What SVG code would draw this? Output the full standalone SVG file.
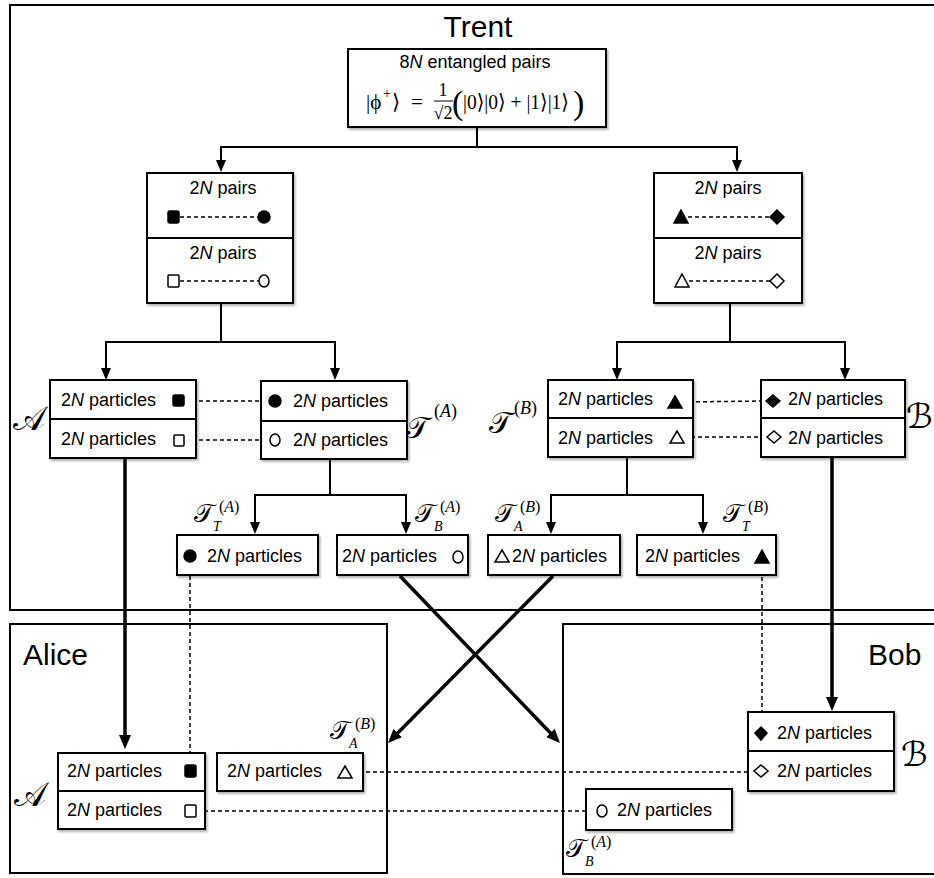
<svg xmlns="http://www.w3.org/2000/svg" width="934" height="878" viewBox="0 0 934 878">
<style>
.frame{fill:none;stroke:#000;stroke-width:2}
.box{fill:#fff;stroke:#000;stroke-width:2;filter:url(#sh)}
.div{stroke:#000;stroke-width:2}
.ln{fill:none;stroke:#000;stroke-width:2}
.thick{fill:none;stroke:#000;stroke-width:3.5}
.dash{fill:none;stroke:#000;stroke-width:1.5;stroke-dasharray:4 3}
.t{font-family:"Liberation Sans",Arial,sans-serif;font-size:18px;fill:#000}
.title{font-family:"Liberation Sans",Arial,sans-serif;font-size:30px;fill:#000}
.m{font-family:"Liberation Serif","DejaVu Serif",serif;font-size:21px;fill:#000}
.msup{font-family:"Liberation Serif","DejaVu Serif",serif;font-size:14px;fill:#000}
.big{font-family:"Liberation Serif","DejaVu Serif",serif;font-size:34px;fill:#000}
.frac{font-family:"Liberation Serif","DejaVu Serif",serif;font-size:18px;fill:#000}
.cal{font-family:"DejaVu Serif","DejaVu Sans","Liberation Serif",serif;font-size:34px;fill:#000}
.calt{font-family:"DejaVu Serif","DejaVu Sans","Liberation Serif",serif;font-size:30px;fill:#000}
.cals{font-family:"DejaVu Serif","DejaVu Sans","Liberation Serif",serif;font-size:26px;fill:#000}
.supb{font-family:"Liberation Serif","DejaVu Serif",serif;font-size:18px;fill:#000}
.sup{font-family:"Liberation Serif","DejaVu Serif",serif;font-size:16px;fill:#000}
.sub{font-family:"Liberation Serif","DejaVu Serif",serif;font-size:14px;font-style:italic;fill:#000}
.fk{fill:#000;stroke:#000;stroke-width:1.5}
.op{fill:#fff;stroke:#000;stroke-width:1.5}
</style>
<defs>
<filter id="sh" x="-10%" y="-10%" width="130%" height="150%">
<feDropShadow dx="1.5" dy="2" stdDeviation="1.2" flood-color="#000" flood-opacity="0.3"/>
</filter>
<marker id="ah" viewBox="0 0 12 12" refX="4" refY="6" markerWidth="12" markerHeight="12" markerUnits="userSpaceOnUse" orient="auto-start-reverse">
<path d="M0,1 L12,6 L0,11 z" fill="#000"/>
</marker>
<marker id="ahb" viewBox="0 0 14 12" refX="5" refY="6" markerWidth="14" markerHeight="12" markerUnits="userSpaceOnUse" orient="auto">
<path d="M0,0 L14,6 L0,12 z" fill="#000"/>
</marker>
</defs>
<rect width="934" height="878" fill="#fff"/>

<g id="trent-frame">
<rect class="frame" x="10" y="5" width="940" height="605"/>
<text class="title" x="478" y="37" text-anchor="middle">Trent</text>
</g>
<g id="alice-frame">
<rect class="frame" x="10" y="624" width="377" height="249"/>
<text class="title" x="23" y="665">Alice</text>
</g>
<g id="bob-frame">
<rect class="frame" x="563" y="624" width="400" height="250"/>
<text class="title" x="868" y="665">Bob</text>
</g>

<g id="connectors">
<polyline class="ln" points="477,127 477,147"/>
<polyline class="ln" points="221,164 221,147 737,147 737,164" marker-start="url(#ah)" marker-end="url(#ah)"/>
<polyline class="ln" points="221,303 221,342"/>
<polyline class="ln" points="106,372 106,342 335,342 335,372" marker-start="url(#ah)" marker-end="url(#ah)"/>
<polyline class="ln" points="730,303 730,342"/>
<polyline class="ln" points="617,372 617,342 845,342 845,372" marker-start="url(#ah)" marker-end="url(#ah)"/>
<polyline class="ln" points="330,459 330,495"/>
<polyline class="ln" points="255,526 255,495 406,495 406,526" marker-start="url(#ah)" marker-end="url(#ah)"/>
<polyline class="ln" points="627,457 627,495"/>
<polyline class="ln" points="551,526 551,495 703,495 703,526" marker-start="url(#ah)" marker-end="url(#ah)"/>
<line class="thick" x1="125" y1="458" x2="125" y2="740" marker-end="url(#ahb)"/>
<line class="thick" x1="832" y1="457" x2="832" y2="702" marker-end="url(#ahb)"/>
<line class="thick" x1="400" y1="576" x2="553.8" y2="736.5" marker-end="url(#ahb)"/>
<line class="thick" x1="553" y1="576" x2="394.3" y2="736.6" marker-end="url(#ahb)"/>
<line class="dash" x1="185" y1="401" x2="269" y2="401"/>
<line class="dash" x1="185" y1="440" x2="270" y2="440"/>
<line class="dash" x1="682" y1="402" x2="765" y2="401"/>
<line class="dash" x1="684" y1="437" x2="767" y2="437"/>
<line class="dash" x1="190" y1="562" x2="190" y2="765"/>
<line class="dash" x1="762" y1="563" x2="762" y2="727"/>
<line class="dash" x1="352" y1="772" x2="755" y2="772"/>
<line class="dash" x1="197" y1="811" x2="597" y2="811"/>
</g>

<g id="source">
<rect class="box" x="348" y="49" width="258" height="78"/>
<text class="t" x="475" y="68" text-anchor="middle">8<tspan font-style="italic">N</tspan> entangled pairs</text>
<text class="m" x="366" y="109">|ϕ</text>
<text class="msup" x="383" y="98">+</text>
<text class="m" x="392" y="109">⟩</text>
<text class="m" x="417" y="109" text-anchor="middle">=</text>
<text class="frac" x="443" y="96" text-anchor="middle">1</text>
<line x1="434" y1="101" x2="453" y2="101" stroke="#000" stroke-width="1"/>
<text class="frac" x="443" y="119" text-anchor="middle">√2</text>
<text class="big" x="452" y="114">(</text>
<text class="m" x="463" y="109" textLength="106" lengthAdjust="spacingAndGlyphs">|0⟩|0⟩ + |1⟩|1⟩</text>
<text class="big" x="573" y="114">)</text>
</g>

<g id="pairs-left">
<rect class="box" x="147" y="173" width="146" height="130"/>
<line class="div" x1="147" y1="238" x2="293" y2="238"/>
<text class="t" x="223" y="194" text-anchor="middle">2<tspan font-style="italic">N</tspan> pairs</text>
<text class="t" x="223" y="259" text-anchor="middle">2<tspan font-style="italic">N</tspan> pairs</text>
<line class="dash" x1="180" y1="217" x2="258" y2="217"/>
<line class="dash" x1="180" y1="281" x2="259" y2="281"/>
<rect class="fk" x="168" y="211" width="11" height="12" rx="2"/>
<circle class="fk" cx="264" cy="217" r="6"/>
<rect class="op" x="168" y="275" width="11" height="12" rx="1"/>
<ellipse class="op" cx="264" cy="281" rx="5" ry="6"/>
</g>

<g id="pairs-right">
<rect class="box" x="654" y="173" width="148" height="130"/>
<line class="div" x1="654" y1="238" x2="802" y2="238"/>
<text class="t" x="728" y="194" text-anchor="middle">2<tspan font-style="italic">N</tspan> pairs</text>
<text class="t" x="728" y="259" text-anchor="middle">2<tspan font-style="italic">N</tspan> pairs</text>
<line class="dash" x1="688" y1="217" x2="770" y2="217"/>
<line class="dash" x1="689" y1="281" x2="770" y2="281"/>
<polygon class="fk" points="681,210 688,223 674,223"/>
<polygon class="fk" points="777,210 784,217 777,224 770,217"/>
<polygon class="op" points="682,274 689,287 675,287"/>
<polygon class="op" points="777,274 784,281 777,288 770,281"/>
</g>

<g id="A-trent">
<rect class="box" x="50" y="380" width="146" height="78"/>
<line class="div" x1="50" y1="419" x2="196" y2="419"/>
<text class="t" x="61" y="406">2<tspan font-style="italic">N</tspan> particles</text>
<text class="t" x="61" y="445">2<tspan font-style="italic">N</tspan> particles</text>
<rect class="fk" x="173" y="395" width="11" height="11" rx="2"/>
<rect class="op" x="174" y="435" width="10" height="11" rx="1"/>
<text class="cal" x="13" y="430">𝒜</text>
</g>

<g id="TA">
<rect class="box" x="261" y="381" width="146" height="78"/>
<line class="div" x1="261" y1="421" x2="407" y2="421"/>
<text class="t" x="293" y="407">2<tspan font-style="italic">N</tspan> particles</text>
<text class="t" x="293" y="446">2<tspan font-style="italic">N</tspan> particles</text>
<circle class="fk" cx="275" cy="401" r="6"/>
<ellipse class="op" cx="275" cy="440" rx="5" ry="6"/>
<text class="calt" x="406" y="438">𝒯</text>
<text class="supb" x="434" y="417">(<tspan font-style="italic">A</tspan>)</text>
</g>

<g id="TB">
<rect class="box" x="548" y="380" width="145" height="77"/>
<line class="div" x1="548" y1="418" x2="693" y2="418"/>
<text class="t" x="558" y="405">2<tspan font-style="italic">N</tspan> particles</text>
<text class="t" x="558" y="444">2<tspan font-style="italic">N</tspan> particles</text>
<polygon class="fk" points="675,396 682,408 668,408"/>
<polygon class="op" points="677,431 684,443 670,443"/>
<text class="calt" x="489" y="433">𝒯</text>
<text class="supb" x="514" y="414">(<tspan font-style="italic">B</tspan>)</text>
</g>

<g id="B-trent">
<rect class="box" x="761" y="380" width="144" height="77"/>
<line class="div" x1="761" y1="418" x2="905" y2="418"/>
<text class="t" x="788" y="405">2<tspan font-style="italic">N</tspan> particles</text>
<text class="t" x="788" y="444">2<tspan font-style="italic">N</tspan> particles</text>
<polygon class="fk" points="773,395 780,401 773,407 766,401"/>
<polygon class="op" points="774,431 781,437 774,443 767,437"/>
<text class="cal" x="906" y="428">ℬ</text>
</g>

<g id="TTA">
<rect class="box" x="177" y="535" width="141" height="40"/>
<text class="t" x="207" y="562">2<tspan font-style="italic">N</tspan> particles</text>
<circle class="fk" cx="190" cy="556" r="6"/>
<text class="cals" x="194" y="522">𝒯</text>
<text class="sub" x="213" y="531">T</text>
<text class="sup" x="219" y="512">(<tspan font-style="italic">A</tspan>)</text>
</g>

<g id="TBA">
<rect class="box" x="337" y="535" width="131" height="40"/>
<text class="t" x="342" y="562">2<tspan font-style="italic">N</tspan> particles</text>
<ellipse class="op" cx="458" cy="557" rx="5" ry="6"/>
<text class="cals" x="415" y="522">𝒯</text>
<text class="sub" x="434" y="531">B</text>
<text class="sup" x="440" y="512">(<tspan font-style="italic">A</tspan>)</text>
</g>

<g id="TAB">
<rect class="box" x="488" y="535" width="132" height="40"/>
<text class="t" x="512" y="562">2<tspan font-style="italic">N</tspan> particles</text>
<polygon class="op" points="502,550 509,562 495,562"/>
<text class="cals" x="495" y="522">𝒯</text>
<text class="sub" x="514" y="531">A</text>
<text class="sup" x="520" y="512">(<tspan font-style="italic">B</tspan>)</text>
</g>

<g id="TTB">
<rect class="box" x="637" y="535" width="139" height="40"/>
<text class="t" x="645" y="562">2<tspan font-style="italic">N</tspan> particles</text>
<polygon class="fk" points="762,550 769,563 755,563"/>
<text class="cals" x="723" y="522">𝒯</text>
<text class="sub" x="742" y="531">T</text>
<text class="sup" x="748" y="512">(<tspan font-style="italic">B</tspan>)</text>
</g>

<g id="A-alice">
<rect class="box" x="58" y="753" width="147" height="76"/>
<line class="div" x1="58" y1="791" x2="205" y2="791"/>
<text class="t" x="67" y="777">2<tspan font-style="italic">N</tspan> particles</text>
<text class="t" x="67" y="816">2<tspan font-style="italic">N</tspan> particles</text>
<rect class="fk" x="185" y="765" width="11" height="12" rx="2"/>
<rect class="op" x="185" y="805" width="11" height="12" rx="1"/>
<text class="cal" x="14" y="806">𝒜</text>
</g>

<g id="TAB-alice">
<rect class="box" x="217" y="753" width="146" height="38"/>
<text class="t" x="227" y="777">2<tspan font-style="italic">N</tspan> particles</text>
<polygon class="op" points="345,766 352,778 338,778"/>
<text class="cals" x="330" y="739">𝒯</text>
<text class="sub" x="349" y="748">A</text>
<text class="sup" x="355" y="729">(<tspan font-style="italic">B</tspan>)</text>
</g>

<g id="B-bob">
<rect class="box" x="748" y="712" width="146" height="79"/>
<line class="div" x1="748" y1="751" x2="894" y2="751"/>
<text class="t" x="777" y="739">2<tspan font-style="italic">N</tspan> particles</text>
<text class="t" x="777" y="777">2<tspan font-style="italic">N</tspan> particles</text>
<polygon class="fk" points="761,727 767,733 761,740 755,733"/>
<polygon class="op" points="761,765 768,771 761,777 754,771"/>
<text class="cal" x="901" y="766">ℬ</text>
</g>

<g id="TBA-bob">
<rect class="box" x="586" y="789" width="146" height="41"/>
<text class="t" x="617" y="816">2<tspan font-style="italic">N</tspan> particles</text>
<ellipse class="op" cx="602" cy="811" rx="5" ry="6"/>
<text class="cals" x="566" y="857">𝒯</text>
<text class="sub" x="585" y="866">B</text>
<text class="sup" x="591" y="847">(<tspan font-style="italic">A</tspan>)</text>
</g>
</svg>
